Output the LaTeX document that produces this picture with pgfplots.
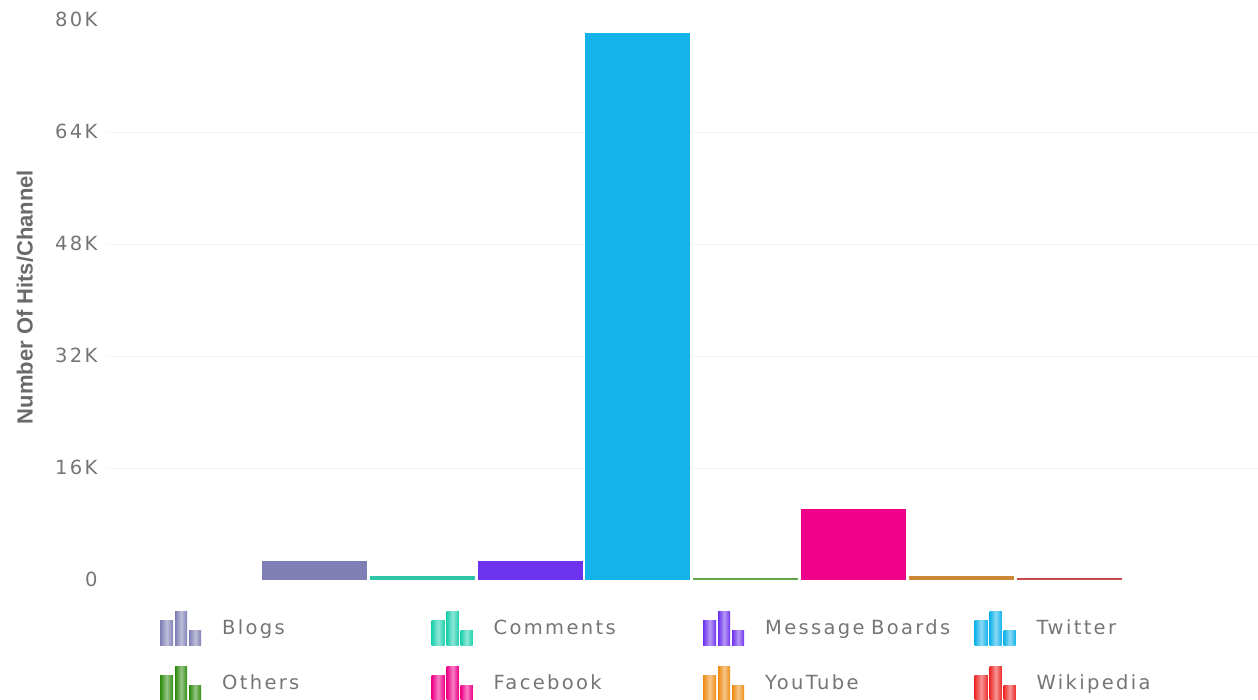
\documentclass[border=0pt]{standalone}
\usepackage{fontspec}
\setmainfont{DejaVu Sans}
\newfontfamily\spacedfont[LetterSpace=12]{DejaVu Sans}
\newfontfamily\labelfont{Liberation Sans}
\usepackage{pgfplots}
\pgfplotsset{compat=1.18}

\definecolor{blogs}{HTML}{7F7FB5}
\definecolor{comments}{HTML}{1FD0AE}
\definecolor{boards}{HTML}{6E33EE}
\definecolor{twitter}{HTML}{14B3EA}
\definecolor{others}{HTML}{2E8B0E}
\definecolor{facebook}{HTML}{EE0088}
\definecolor{youtube}{HTML}{EE8C14}
\definecolor{wikipedia}{HTML}{EE2B2B}
\definecolor{ticktext}{HTML}{757575}
\definecolor{labeltext}{HTML}{6A6A6A}

% three small bars, as in the chart's legend
\newcommand{\glyphbar}[4]{%
  \shade[draw=none, left color=#1, right color=#1, middle color=#1!50!white]
    (#2pt,-17pt) rectangle (#3pt,#4pt);
}
\pgfplotsset{
  barglyph/.style={
    legend image code/.code={
      \glyphbar{#1}{0}{13}{8}
      \glyphbar{#1}{15}{27}{17}
      \glyphbar{#1}{29}{41}{-2}
      \path[draw=none, fill=none] (0pt,0pt) -- (62pt,0pt);
    }
  }
}

\begin{document}
\begin{tikzpicture}[x=1pt,y=1pt]
\path[use as bounding box] (-107,-120) rectangle (1151,580);
\begin{axis}[
  at={(0,0)}, anchor=south west,
  scale only axis,
  width=1151pt, height=560pt,
  xmin=-0.925, xmax=9.752,
  ymin=0, ymax=80000,
  ybar, bar shift=0pt, bar width=105pt,
  axis x line=none,
  axis y line=left,
  axis line style={draw=none},
  major tick length=0pt,
  scaled y ticks=false,
  ytick={0,80000},
  yticklabels={0,80K},
  extra y ticks={16000,32000,48000,64000},
  extra y tick labels={16K,32K,48K,64K},
  extra y tick style={
    ymajorgrids=true,
    major grid style={color=black!4, line width=0.8pt},
  },
  tick label style={font=\fontsize{19.5}{22}\spacedfont, text=ticktext},
  yticklabel style={xshift=-6pt, yshift=1pt},
  ylabel={\labelfont\bfseries Number Of Hits/Channel},
  ylabel style={font=\fontsize{22}{24}\selectfont, text=labeltext, at={(axis description cs:0,0.5)}, anchor=center, yshift=82pt, xshift=3pt},
  clip=false,
  legend columns=4,
  legend cell align=left,
  legend style={
    draw=none, fill=none,
    at={(53pt,-31pt)}, anchor=north west,
    font=\fontsize{19.5}{22}\spacedfont,
    text=ticktext,
    row sep=21pt,
    inner sep=0pt,
    nodes={anchor=west, text width=209.5pt, inner sep=0pt},
  },
]
\addplot[fill=blogs,draw=none,barglyph=blogs] coordinates {(1,2700)};
\addplot[fill=comments!85!gray,draw=none,barglyph=comments] coordinates {(2,570)};
\addplot[fill=boards,draw=none,barglyph=boards] coordinates {(3,2700)};
\addplot[fill=twitter,draw=none,barglyph=twitter] coordinates {(4,78100)};
\addplot[fill=others!75!white,draw=none,barglyph=others] coordinates {(5,280)};
\addplot[fill=facebook,draw=none,barglyph=facebook] coordinates {(6,10100)};
\addplot[fill=youtube!70!gray,draw=none,barglyph=youtube] coordinates {(7,620)};
\addplot[fill=wikipedia!65!gray,draw=none,barglyph=wikipedia] coordinates {(8,260)};
\legend{Blogs,Comments,Message Boards,Twitter,Others,Facebook,YouTube,Wikipedia}
\end{axis}
\end{tikzpicture}
\end{document}
